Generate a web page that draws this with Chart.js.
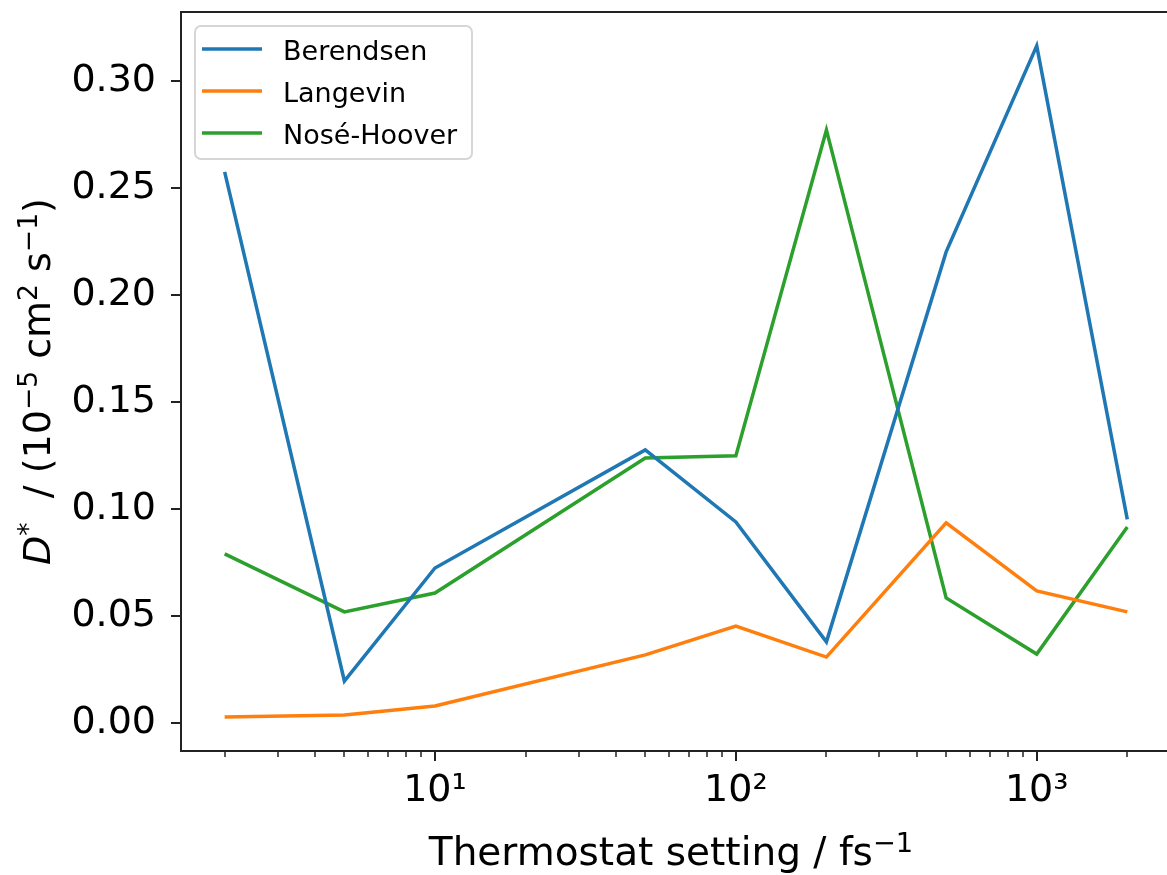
<!DOCTYPE html>
<html>
<head>
<meta charset="utf-8">
<title>Diffusion vs thermostat setting</title>
<script src="https://cdn.jsdelivr.net/npm/chart.js@4.4.0/dist/chart.umd.min.js"></script>
<style>
  html, body { margin: 0; padding: 0; background: #fff; overflow: hidden; }
  #wrap { width: 1167px; height: 875px; }
</style>
</head>
<body>
<div id="wrap"><canvas id="chart"></canvas></div>
<script>
// === DATA ===
const settings = [2, 5, 10, 50, 100, 200, 500, 1000, 2000];
const berendsen = [0.2575, 0.0196, 0.0724, 0.1276, 0.0939, 0.0379, 0.2201, 0.3164, 0.0951];
const langevin = [0.0028, 0.0037, 0.0079, 0.0318, 0.0453, 0.0308, 0.0935, 0.0617, 0.0519];
const noseHoover = [0.0790, 0.0519, 0.0607, 0.1238, 0.1248, 0.2771, 0.0584, 0.0322, 0.0916];
const seriesNames = ["Berendsen", "Langevin", "Nosé-Hoover"];
const yTicks = [0.00, 0.05, 0.10, 0.15, 0.20, 0.25, 0.30];
const xMajorTicks = [10, 100, 1000];

const seriesColors = ["#1f77b4", "#ff7f0e", "#2ca02c"];
const FONT = "'DejaVu Sans', sans-serif";
const SUP = { "1": "\u00b9", "2": "\u00b2", "3": "\u00b3" };

const X_MIN = 1.432;
const X_MAX = 2710;

// log axis ticks: decades get a label, 2..9 multiples are minor
const xTickValues = [];
[1, 10, 100, 1000].forEach((d) => {
  for (let k = 1; k <= 9; k++) {
    const v = k * d;
    if (v >= X_MIN && v <= X_MAX) xTickValues.push(v);
  }
});

// draws text made of plain / italic / superscript runs, centred on (0, 0) baseline
function drawRuns(ctx, runs, size) {
  const fontFor = (r) => {
    const s = r.sup ? size * 0.7 : size;
    return (r.italic ? "oblique " : "") + s + "px " + FONT;
  };
  let total = 0;
  runs.forEach((r) => { ctx.font = fontFor(r); total += ctx.measureText(r.t).width; });
  let x = -total / 2;
  runs.forEach((r) => {
    ctx.font = fontFor(r);
    ctx.fillText(r.t, x, r.sup ? -size * 0.34 : 0);
    x += ctx.measureText(r.t).width;
  });
}

// === SPINES, TICK MARKS, AXIS TITLES, LEGEND ===
const frame = {
  id: "frame",
  afterDraw(chart) {
    const { ctx, chartArea: a, scales: { x, y } } = chart;
    ctx.save();
    ctx.strokeStyle = "#222";
    ctx.lineWidth = 2;
    ctx.beginPath();
    ctx.moveTo(a.right + 2, a.top);
    ctx.lineTo(a.left, a.top);
    ctx.lineTo(a.left, a.bottom);
    ctx.lineTo(a.right + 2, a.bottom);
    ctx.stroke();

    // y ticks
    ctx.beginPath();
    yTicks.forEach((v) => {
      const p = Math.round(y.getPixelForValue(v));
      ctx.moveTo(a.left - 10, p);
      ctx.lineTo(a.left, p);
    });
    ctx.stroke();

    // x ticks, major longer than minor
    x.ticks.forEach((t) => {
      const p = Math.round(x.getPixelForValue(t.value));
      const major = xMajorTicks.includes(t.value);
      ctx.lineWidth = major ? 2 : 1.5;
      ctx.beginPath();
      ctx.moveTo(p, a.bottom);
      ctx.lineTo(p, a.bottom + (major ? 10 : 6));
      ctx.stroke();
    });

    // axis titles
    ctx.fillStyle = "#000";
    ctx.textBaseline = "alphabetic";
    ctx.textAlign = "left";
    ctx.save();
    ctx.translate(671, 865);
    drawRuns(ctx, [{ t: "Thermostat setting / fs" }, { t: "\u22121", sup: true }], 39);
    ctx.restore();

    ctx.save();
    ctx.translate(50, (a.top + a.bottom) / 2);
    ctx.rotate(-Math.PI / 2);
    drawRuns(ctx, [
      { t: "D", italic: true }, { t: "*", sup: true }, { t: "  / (10" },
      { t: "\u22125", sup: true }, { t: " cm" }, { t: "2", sup: true },
      { t: " s" }, { t: "\u22121", sup: true }, { t: ")" }
    ], 38);
    ctx.restore();

    // legend
    const lx = 195, ly = 26, lw = 277, lh = 133;
    ctx.beginPath();
    ctx.roundRect(lx, ly, lw, lh, 6);
    ctx.fillStyle = "rgba(255,255,255,0.8)";
    ctx.fill();
    ctx.strokeStyle = "rgba(204,204,204,0.8)";
    ctx.lineWidth = 2;
    ctx.stroke();
    ctx.font = "27px " + FONT;
    chart.data.datasets.forEach((ds, i) => {
      const rowY = 49 + i * 42;
      ctx.strokeStyle = ds.borderColor;
      ctx.lineWidth = 3.5;
      ctx.beginPath();
      ctx.moveTo(202, rowY);
      ctx.lineTo(262, rowY);
      ctx.stroke();
      ctx.fillStyle = "#000";
      ctx.fillText(ds.label, 283, rowY + 10.5);
    });
    ctx.restore();
  }
};

const seriesValues = [berendsen, langevin, noseHoover];

const ctx = document.getElementById("chart").getContext("2d");
new Chart(ctx, {
  type: "line",
  data: {
    datasets: seriesNames.map((name, i) => ({
      label: name,
      data: settings.map((s, j) => ({ x: s, y: seriesValues[i][j] })),
      borderColor: seriesColors[i],
      backgroundColor: seriesColors[i],
      borderWidth: 3.5,
      pointRadius: 0,
      tension: 0,
      fill: false
    }))
  },
  options: {
    responsive: true,
    maintainAspectRatio: false,
    animation: false,
    layout: { padding: { top: 12, right: 0, bottom: 0, left: 0 } },
    plugins: { legend: { display: false }, tooltip: { enabled: false } },
    scales: {
      x: {
        type: "logarithmic",
        min: X_MIN,
        max: X_MAX,
        afterBuildTicks: (s) => { s.ticks = xTickValues.map((v) => ({ value: v })); },
        afterFit: (s) => { s.height = 124; s.paddingLeft = 0; s.paddingRight = 0; },
        grid: { display: false, drawTicks: true, tickLength: 10 },
        border: { display: false },
        ticks: {
          autoSkip: false,
          maxRotation: 0,
          padding: 7,
          color: "#000",
          font: { family: FONT, size: 38 },
          callback: (v) => xMajorTicks.includes(v) ? "10" + SUP[String(Math.round(Math.log10(v)))] : ""
        }
      },
      y: {
        type: "linear",
        min: -0.0131,
        max: 0.3322,
        afterBuildTicks: (s) => { s.ticks = yTicks.map((v) => ({ value: v })); },
        afterFit: (s) => { s.width = 181; s.paddingTop = 0; s.paddingBottom = 0; },
        grid: { display: false, drawTicks: true, tickLength: 10 },
        border: { display: false },
        ticks: {
          padding: 15,
          color: "#000",
          font: { family: FONT, size: 38 },
          callback: (v) => v.toFixed(2)
        }
      }
    }
  },
  plugins: [frame]
});
</script>
</body>
</html>
